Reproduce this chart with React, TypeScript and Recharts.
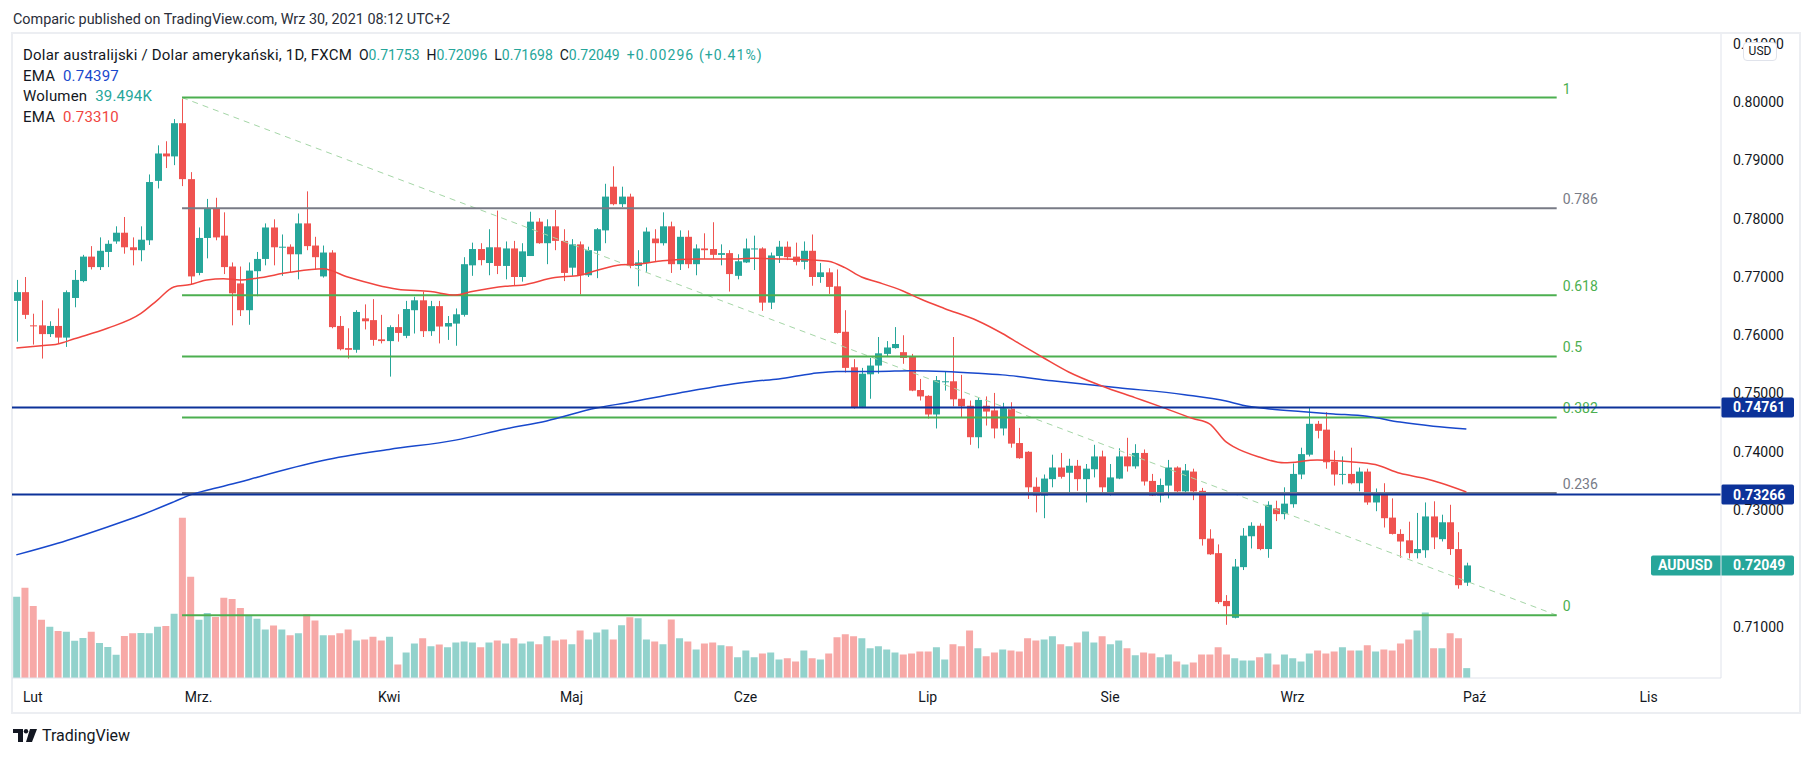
import React from 'react';
import { ComposedChart, Bar, Line, XAxis, YAxis, ReferenceLine, Cell } from 'recharts';

// daily AUDUSD bars, 28 Jan - 30 Sep 2021 (index 0 = Jan 28)
const opens = [
  0.7659, 0.7674, 0.7617, 0.7617, 0.7602, 0.7616, 0.7596, 0.7664, 0.7693, 0.7735,
  0.7717, 0.7743, 0.7761, 0.7776, 0.7751, 0.7746, 0.7763, 0.7865, 0.7912, 0.7907,
  0.7964, 0.7868, 0.7707, 0.7767, 0.7817, 0.7771, 0.7718, 0.7689, 0.7643, 0.7710,
  0.7731, 0.7785, 0.7751, 0.7752, 0.7739, 0.7792, 0.7754, 0.7701, 0.7742, 0.7616,
  0.7578, 0.7575, 0.7629, 0.7626, 0.7593, 0.7590, 0.7614, 0.7599, 0.7643, 0.7660,
  0.7607, 0.7650, 0.7615, 0.7620, 0.7635, 0.7720, 0.7748, 0.7724, 0.7751, 0.7719,
  0.7749, 0.7700, 0.7736, 0.7795, 0.7758, 0.7787, 0.7762, 0.7716, 0.7756, 0.7703,
  0.7745, 0.7780, 0.7855, 0.7825, 0.7838, 0.7719, 0.7724, 0.7766, 0.7758, 0.7787,
  0.7722, 0.7769, 0.7722, 0.7749, 0.7748, 0.7738, 0.7741, 0.7702, 0.7725, 0.7748,
  0.7749, 0.7656, 0.7736, 0.7752, 0.7735, 0.7726, 0.7745, 0.7700, 0.7708, 0.7684,
  0.7606, 0.7545, 0.7477, 0.7533, 0.7548, 0.7568, 0.7578, 0.7571, 0.7563, 0.7506,
  0.7496, 0.7464, 0.7520, 0.7521, 0.7491, 0.7479, 0.7425, 0.7479, 0.7471, 0.7440,
  0.7474, 0.7415, 0.7400, 0.7340, 0.7325, 0.7353, 0.7373, 0.7364, 0.7376, 0.7353,
  0.7370, 0.7392, 0.7328, 0.7354, 0.7392, 0.7375, 0.7398, 0.7350, 0.7325, 0.7342,
  0.7373, 0.7332, 0.7366, 0.7333, 0.7251, 0.7226, 0.7144, 0.7115, 0.7202, 0.7255,
  0.7273, 0.7233, 0.7303, 0.7293, 0.7310, 0.7361, 0.7395, 0.7448, 0.7438, 0.7383,
  0.7361, 0.7362, 0.7346, 0.7366, 0.7313, 0.7328, 0.7287, 0.7259, 0.7248, 0.7226,
  0.7231, 0.7289, 0.7250, 0.7279, 0.7233, 0.71753,
];
const highs = [
  0.7695, 0.7700, 0.7637, 0.7660, 0.7624, 0.7646, 0.7677, 0.7712, 0.7738, 0.7753,
  0.7768, 0.7763, 0.7787, 0.7803, 0.7768, 0.7787, 0.7876, 0.7926, 0.7933, 0.7971,
  0.8006, 0.7880, 0.7785, 0.7834, 0.7836, 0.7811, 0.7725, 0.7718, 0.7725, 0.7743,
  0.7792, 0.7799, 0.7773, 0.7756, 0.7809, 0.7847, 0.7769, 0.7754, 0.7746, 0.7633,
  0.7612, 0.7643, 0.7653, 0.7662, 0.7635, 0.7617, 0.7636, 0.7659, 0.7666, 0.7675,
  0.7659, 0.7659, 0.7633, 0.7646, 0.7734, 0.7759, 0.7758, 0.7782, 0.7814, 0.7761,
  0.7762, 0.7758, 0.7812, 0.7801, 0.7799, 0.7815, 0.7782, 0.7765, 0.7761, 0.7752,
  0.7784, 0.7860, 0.7890, 0.7855, 0.7843, 0.7746, 0.7785, 0.7782, 0.7811, 0.7795,
  0.7780, 0.7780, 0.7756, 0.7775, 0.7794, 0.7756, 0.7746, 0.7739, 0.7766, 0.7771,
  0.7751, 0.7742, 0.7762, 0.7761, 0.7759, 0.7761, 0.7773, 0.7724, 0.7715, 0.7713,
  0.7643, 0.7559, 0.7544, 0.7561, 0.7597, 0.7590, 0.7614, 0.7600, 0.7568, 0.7525,
  0.7497, 0.7530, 0.7537, 0.7597, 0.7532, 0.7488, 0.7493, 0.7495, 0.7501, 0.7484,
  0.7485, 0.7441, 0.7401, 0.7356, 0.7361, 0.7395, 0.7398, 0.7388, 0.7386, 0.7379,
  0.7412, 0.7402, 0.7379, 0.7406, 0.7424, 0.7413, 0.7404, 0.7362, 0.7354, 0.7386,
  0.7375, 0.7379, 0.7371, 0.7338, 0.7267, 0.7241, 0.7154, 0.7216, 0.7269, 0.7279,
  0.7277, 0.7315, 0.7316, 0.7339, 0.7380, 0.7407, 0.7476, 0.7453, 0.7468, 0.7402,
  0.7392, 0.7407, 0.7373, 0.7371, 0.7337, 0.7346, 0.7320, 0.7267, 0.7280, 0.7295,
  0.7313, 0.7315, 0.7292, 0.7309, 0.7262, 0.72096,
];
const lows = [
  0.7589, 0.7628, 0.7584, 0.7560, 0.7597, 0.7585, 0.7580, 0.7648, 0.7691, 0.7713,
  0.7712, 0.7717, 0.7757, 0.7740, 0.7720, 0.7727, 0.7755, 0.7852, 0.7887, 0.7892,
  0.7856, 0.7687, 0.7703, 0.7732, 0.7763, 0.7705, 0.7617, 0.7633, 0.7618, 0.7667,
  0.7720, 0.7720, 0.7702, 0.7708, 0.7696, 0.7746, 0.7713, 0.7699, 0.7612, 0.7574,
  0.7560, 0.7570, 0.7610, 0.7582, 0.7586, 0.7529, 0.7589, 0.7595, 0.7603, 0.7597,
  0.7599, 0.7586, 0.7592, 0.7582, 0.7632, 0.7702, 0.7720, 0.7703, 0.7705, 0.7696,
  0.7685, 0.7692, 0.7736, 0.7757, 0.7722, 0.7746, 0.7693, 0.7702, 0.7670, 0.7700,
  0.7698, 0.7758, 0.7823, 0.7820, 0.7715, 0.7684, 0.7709, 0.7727, 0.7754, 0.7707,
  0.7712, 0.7715, 0.7703, 0.7731, 0.7731, 0.7720, 0.7675, 0.7696, 0.7724, 0.7712,
  0.7642, 0.7645, 0.7724, 0.7729, 0.7720, 0.7713, 0.7685, 0.7690, 0.7671, 0.7603,
  0.7536, 0.7474, 0.7475, 0.7491, 0.7534, 0.7563, 0.7577, 0.7551, 0.7504, 0.7488,
  0.7457, 0.7440, 0.7505, 0.7478, 0.7459, 0.7412, 0.7406, 0.7445, 0.7423, 0.7428,
  0.7407, 0.7388, 0.7319, 0.7296, 0.7286, 0.7339, 0.7354, 0.7329, 0.7333, 0.7313,
  0.7356, 0.7328, 0.7325, 0.7353, 0.7366, 0.7371, 0.7342, 0.7324, 0.7313, 0.7320,
  0.7329, 0.7329, 0.7317, 0.7239, 0.7223, 0.7139, 0.7103, 0.7114, 0.7197, 0.7234,
  0.7231, 0.7218, 0.7281, 0.7284, 0.7304, 0.7353, 0.7392, 0.7423, 0.7371, 0.7342,
  0.7344, 0.7344, 0.7332, 0.7309, 0.7298, 0.7270, 0.7258, 0.7218, 0.7217, 0.7217,
  0.7218, 0.7233, 0.7246, 0.7223, 0.7165, 0.71698,
];
const closes = [
  0.7674, 0.7635, 0.7616, 0.7602, 0.7616, 0.7596, 0.7674, 0.7695, 0.7735, 0.7717,
  0.7745, 0.7757, 0.7776, 0.7751, 0.7746, 0.7764, 0.7863, 0.7912, 0.7907, 0.7964,
  0.7868, 0.7701, 0.7767, 0.7817, 0.7768, 0.7717, 0.7672, 0.7643, 0.7711, 0.7731,
  0.7785, 0.7751, 0.7752, 0.7739, 0.7792, 0.7753, 0.7734, 0.7742, 0.7614, 0.7576,
  0.7575, 0.7640, 0.7624, 0.7592, 0.7590, 0.7614, 0.7604, 0.7645, 0.7660, 0.7607,
  0.7650, 0.7615, 0.7621, 0.7636, 0.7722, 0.7748, 0.7729, 0.7751, 0.7719, 0.7749,
  0.7700, 0.7744, 0.7795, 0.7758, 0.7787, 0.7762, 0.7707, 0.7756, 0.7703, 0.7746,
  0.7782, 0.7838, 0.7825, 0.7838, 0.7719, 0.7725, 0.7778, 0.7758, 0.7787, 0.7722,
  0.7769, 0.7722, 0.7749, 0.7746, 0.7738, 0.7741, 0.7705, 0.7727, 0.7749, 0.7749,
  0.7656, 0.7737, 0.7752, 0.7734, 0.7726, 0.7745, 0.7700, 0.7708, 0.7683, 0.7604,
  0.7544, 0.7476, 0.7534, 0.7548, 0.7569, 0.7579, 0.7585, 0.7561, 0.7505, 0.7495,
  0.7464, 0.7523, 0.7521, 0.7490, 0.7478, 0.7425, 0.7489, 0.7469, 0.7440, 0.7475,
  0.7414, 0.7389, 0.7339, 0.7325, 0.7354, 0.7373, 0.7357, 0.7376, 0.7353, 0.7371,
  0.7392, 0.7339, 0.7356, 0.7392, 0.7375, 0.7398, 0.7349, 0.7325, 0.7343, 0.7373,
  0.7332, 0.7368, 0.7332, 0.7250, 0.7224, 0.7142, 0.7135, 0.7203, 0.7256, 0.7273,
  0.7233, 0.7309, 0.7293, 0.7311, 0.7362, 0.7396, 0.7448, 0.7436, 0.7382, 0.7361,
  0.7362, 0.7346, 0.7366, 0.7313, 0.7328, 0.7286, 0.7259, 0.7246, 0.7226, 0.7233,
  0.7289, 0.7253, 0.7279, 0.7233, 0.7171, 0.72049,
];
// volume, thousands
const volumes = [
  325, 361, 288, 233, 205, 188, 185, 149, 160, 185, 140, 124, 93, 168, 179, 180, 179, 205, 208, 257,
  641, 405, 233, 260, 244, 321, 316, 280, 252, 237, 194, 210, 194, 171, 179, 255, 230, 171, 171, 179,
  194, 150, 154, 165, 150, 165, 54, 102, 138, 159, 127, 134, 123, 142, 146, 142, 123, 142, 150, 138,
  159, 138, 146, 135, 167, 150, 154, 135, 190, 154, 182, 194, 154, 211, 243, 239, 154, 146, 135, 234,
  159, 146, 114, 138, 142, 131, 127, 83, 110, 83, 98, 102, 74, 79, 66, 110, 79, 74, 98, 163,
  175, 167, 159, 119, 127, 114, 102, 94, 98, 106, 106, 123, 74, 135, 127, 190, 119, 87, 102, 114,
  110, 106, 159, 150, 154, 167, 135, 127, 142, 186, 142, 167, 135, 150, 119, 91, 102, 98, 83, 94,
  66, 54, 62, 94, 94, 123, 94, 79, 70, 70, 83, 98, 54, 94, 79, 66, 98, 110, 98, 106,
  123, 110, 110, 131, 106, 114, 110, 138, 154, 190, 262, 119, 119, 179, 159, 39.494,
];
// EMA readings [bar index, value]
const emaRed: [number, number][] = [
  [0, 0.7578], [3, 0.7582], [5, 0.7585], [7, 0.7594], [11, 0.7612], [15, 0.7637], [17, 0.766],
  [19, 0.7683], [21, 0.7687], [23, 0.7695], [25, 0.7697], [27, 0.7695], [29, 0.7698], [33, 0.7708],
  [37, 0.7714], [40, 0.77], [46, 0.7679], [50, 0.7675], [53, 0.7669], [55, 0.7675], [59, 0.7684],
  [61, 0.7686], [65, 0.7699], [68, 0.7703], [70, 0.7711], [73, 0.7721], [75, 0.7722], [78, 0.7728],
  [82, 0.7731], [86, 0.7731], [89, 0.7732], [92, 0.7731], [96, 0.7729], [98, 0.7727], [100, 0.7716],
  [102, 0.77], [104, 0.7691], [107, 0.7676], [109, 0.7663], [112, 0.7646], [116, 0.7625], [119, 0.7603],
  [121, 0.7586], [124, 0.7561], [127, 0.7537], [131, 0.7513], [135, 0.7493], [138, 0.7478], [142, 0.7457],
  [144, 0.7448], [146, 0.7417], [147, 0.7408], [150, 0.7391], [153, 0.7381], [157, 0.7386], [161, 0.7383],
  [164, 0.7378], [167, 0.7363], [170, 0.7354], [172, 0.7346], [175, 0.7331],
];
const emaBlue: [number, number][] = [
  [0, 0.7223], [5, 0.7243], [11, 0.7271], [15, 0.7291], [19, 0.7314], [21, 0.7326], [23, 0.7334],
  [27, 0.7348], [29, 0.7356], [37, 0.7385], [45, 0.7404], [53, 0.742], [59, 0.7439], [64, 0.7453],
  [70, 0.7475], [74, 0.7485], [80, 0.7501], [89, 0.7521], [92, 0.7525], [96, 0.7534], [99, 0.7538],
  [104, 0.7538], [108, 0.7539], [112, 0.7538], [116, 0.7535], [119, 0.7532], [125, 0.7522], [133, 0.751],
  [141, 0.7498], [146, 0.7487], [148, 0.748], [151, 0.7474], [155, 0.7469], [159, 0.7465], [163, 0.7461],
  [167, 0.7451], [171, 0.7444], [175, 0.7439],
];

const monthTicks = [2, 22, 45, 67, 88, 110, 132, 154, 176, 197];
const monthLabels = ['Lut', 'Mrz.', 'Kwi', 'Maj', 'Cze', 'Lip', 'Sie', 'Wrz', 'Paź', 'Lis'];
// 0.72 is hidden behind the last-price tag, as on the original
const priceTicks = [0.71, 0.73, 0.74, 0.75, 0.76, 0.77, 0.78, 0.79, 0.8, 0.81];

const fibLevels = [1, 0.786, 0.618, 0.5, 0.382, 0.236, 0];
const fibHigh = 0.8008;
const fibLow = 0.71195;
const fibFrom = 20;
const fibTo = 185.9;
const hLines = [0.74761, 0.73266];
const lastPrice = 0.72049;

const UP = '#26a69a';
const DOWN = '#ef5350';
const VUP = '#92d2cc';
const VDOWN = '#f7a9a7';
const GREEN = '#4caf50';
const GREY = '#787b86';
const NAVY = '#0c3299';

const rows = opens.map((o, i) => ({
  i,
  o,
  h: highs[i],
  l: lows[i],
  c: closes[i],
  v: volumes[i],
  er: null as number | null,
  eb: null as number | null,
}));
emaRed.forEach(([i, v]) => { rows[i].er = v; });
emaBlue.forEach(([i, v]) => { rows[i].eb = v; });

const Candle = (props: any) => {
  const { x, y, width, height, payload } = props;
  if (!payload || height == null) return null;
  const { o, h, l, c } = payload;
  const top = Math.min(y, y + height);
  const span = Math.abs(height);
  const k = span / (h - l);
  const col = c >= o ? UP : DOWN;
  const bTop = top + (h - Math.max(o, c)) * k;
  const bH = Math.max(1, Math.abs(o - c) * k);
  const cx = Math.round(x + width / 2) + 0.5;
  return (
    <g>
      <line x1={cx} x2={cx} y1={top} y2={top + span} stroke={col} strokeWidth={1} />
      <rect x={cx - 3.5} y={bTop} width={7} height={bH} fill={col} />
    </g>
  );
};

const fibLabel = (text: string, color: string) => (p: any) => {
  const vb = p.viewBox || {};
  return (
    <text x={vb.x + vb.width + 6} y={vb.y - 4} fill={color} fontSize={14}>
      {text}
    </text>
  );
};

const priceTag = (text: string, bg: string, name?: string) => (p: any) => {
  const vb = p.viewBox || {};
  const right = vb.x + vb.width;
  const left = name ? right - 70 : right;
  return (
    <g>
      <rect x={left} y={vb.y - 10} width={right + 73 - left} height={20} rx={2} fill={bg} />
      {name && (
        <text x={left + 7} y={vb.y + 5} fill="#fff" fontSize={14} fontWeight={700}>{name}</text>
      )}
      <text x={right + 12} y={vb.y + 5} fill="#fff" fontSize={14} fontWeight={700}>{text}</text>
    </g>
  );
};

export default function App() {
  const fibRange = fibHigh - fibLow;
  const val = { color: UP, fontSize: 14, letterSpacing: 0 };
  return (
    <div
      style={{
        position: 'fixed', left: 0, top: 0, width: 1813, height: 757, background: '#fff',
        overflow: 'hidden', fontFamily: 'Roboto, "Liberation Sans", sans-serif', color: '#131722',
      }}
    >
      <div style={{ position: 'absolute', left: 13, top: 11, fontSize: 14.4, color: '#2a2e39' }}>
        Comparic published on TradingView.com, Wrz 30, 2021 08:12 UTC+2
      </div>
      <div
        style={{
          position: 'absolute', left: 11, top: 32, width: 1786, height: 678,
          border: '2px solid #eceef2',
        }}
      />
      <div style={{ position: 'absolute', left: 0, top: 0 }}>
        <ComposedChart
          width={1813}
          height={757}
          data={rows}
          margin={{ top: 34, right: 14, bottom: 45, left: 12 }}
        >
          <XAxis
            xAxisId="p"
            dataKey="i"
            type="number"
            domain={[-0.52, 205.73]}
            allowDataOverflow
            ticks={monthTicks}
            interval={0}
            tickFormatter={(v: number) => monthLabels[monthTicks.indexOf(v)] ?? ''}
            tick={{ fill: '#131722', fontSize: 14 }}
            tickSize={0}
            tickMargin={14}
            height={34}
            axisLine={{ stroke: '#e0e3eb' }}
          />
          <XAxis xAxisId="v" dataKey="i" type="number" domain={[-0.52, 205.73]} allowDataOverflow hide />
          <YAxis
            yAxisId="p"
            orientation="right"
            type="number"
            domain={[0.70117, 0.81171]}
            allowDataOverflow
            ticks={priceTicks}
            interval={0}
            tickFormatter={(v: number) => v.toFixed(5)}
            tick={{ fill: '#131722', fontSize: 14 }}
            tickSize={0}
            tickMargin={12}
            width={78}
            axisLine={{ stroke: '#e0e3eb' }}
          />
          <YAxis yAxisId="v" type="number" domain={[0, 2576]} allowDataOverflow hide />

          {/* Volume */}
          <Bar xAxisId="v" yAxisId="v" dataKey="v" barSize={7} isAnimationActive={false}>
            {rows.map((r) => (
              <Cell key={r.i} fill={r.c >= r.o ? VUP : VDOWN} />
            ))}
          </Bar>

          {/* Fibonacci retracement */}
          <ReferenceLine
            xAxisId="p"
            yAxisId="p"
            segment={[{ x: fibFrom, y: fibHigh }, { x: fibTo, y: fibLow }]}
            stroke="#a5d6a7"
            strokeDasharray="6 5"
            strokeWidth={1}
            ifOverflow="visible"
          />
          {fibLevels.map((f) => {
            const col = f === 0.786 || f === 0.236 ? GREY : GREEN;
            const lvl = fibLow + f * fibRange;
            return (
              <ReferenceLine
                key={f}
                xAxisId="p"
                yAxisId="p"
                segment={[{ x: fibFrom, y: lvl }, { x: fibTo, y: lvl }]}
                stroke={col}
                strokeWidth={2}
                ifOverflow="visible"
                label={fibLabel(String(f), col)}
              />
            );
          })}

          {/* EMAs */}
          <Line
            xAxisId="p" yAxisId="p" type="monotone" dataKey="eb" stroke="#1848cc" strokeWidth={1.5}
            dot={false} connectNulls isAnimationActive={false}
          />
          <Line
            xAxisId="p" yAxisId="p" type="monotone" dataKey="er" stroke="#f0453f" strokeWidth={1.5}
            dot={false} connectNulls isAnimationActive={false}
          />

          {/* Candles */}
          <Bar
            xAxisId="p"
            yAxisId="p"
            dataKey={(d: any) => [d.l, d.h]}
            barSize={7}
            shape={(p: any) => <Candle {...p} />}
            isAnimationActive={false}
          />

          {hLines.map((y) => (
            <ReferenceLine
              key={y}
              xAxisId="p"
              yAxisId="p"
              y={y}
              stroke={NAVY}
              strokeWidth={2}
              label={priceTag(y.toFixed(5), NAVY)}
            />
          ))}
          <ReferenceLine
            xAxisId="p"
            yAxisId="p"
            y={lastPrice}
            stroke="none"
            strokeOpacity={0}
            label={priceTag(lastPrice.toFixed(5), UP, 'AUDUSD')}
          />
        </ComposedChart>
      </div>

      {/* legend */}
      <div
        style={{
          position: 'absolute', left: 23, top: 45, fontSize: 15, lineHeight: '20.7px',
          letterSpacing: '0.2px', whiteSpace: 'pre', color: '#131722',
        }}
      >
        <div>
          {'Dolar australijski / Dolar amerykański, 1D, FXCM'}
          <span style={{ fontSize: 14, letterSpacing: 0 }}>
            {'  O'}<span style={val}>0.71753</span>
            {'  H'}<span style={val}>0.72096</span>
            {'  L'}<span style={val}>0.71698</span>
            {'  C'}<span style={val}>0.72049</span>
            {'  '}<span style={{ ...val, letterSpacing: '1.1px' }}>+0.00296 (+0.41%)</span>
          </span>
        </div>
        <div>EMA  <span style={{ color: '#1848cc' }}>0.74397</span></div>
        <div>Wolumen  <span style={{ color: UP }}>39.494K</span></div>
        <div>EMA  <span style={{ color: '#f0453f' }}>0.73310</span></div>
      </div>

      {/* currency badge */}
      <div
        style={{
          position: 'absolute', left: 1743, top: 42, width: 32, height: 17, background: '#fff',
          border: '1px solid #e0e3eb', borderRadius: 4, fontSize: 12, lineHeight: '17px',
          textAlign: 'center', color: '#131722',
        }}
      >
        USD
      </div>

      {/* footer */}
      <svg style={{ position: 'absolute', left: 13, top: 729 }} width={26} height={13}>
        <path d="M0 0h10v13H5V4H0z" fill="#131722" />
        <circle cx={13} cy={2.2} r={2.2} fill="#131722" />
        <path d="M17 0h7l-5 13h-6z" fill="#131722" />
      </svg>
      <div style={{ position: 'absolute', left: 42, top: 726, fontSize: 16, color: '#131722' }}>
        TradingView
      </div>
    </div>
  );
}
